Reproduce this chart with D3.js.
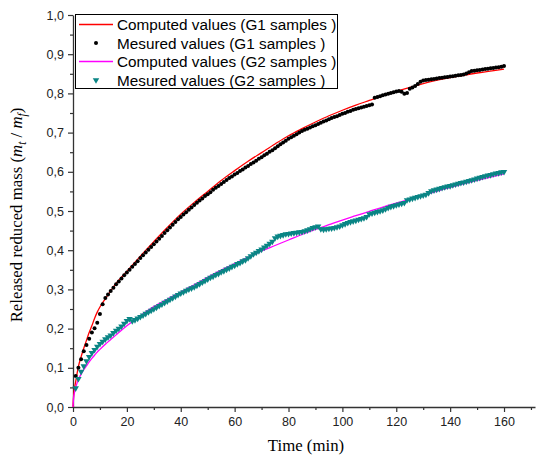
<!DOCTYPE html>
<html>
<head>
<meta charset="utf-8">
<script src="https://cdn.jsdelivr.net/npm/d3@7"></script>
<style>
  body { margin: 0; background: #fff; }
  text { font-family: "Liberation Sans", Arial, sans-serif; }
</style>
</head>
<body>
<div id="chart"></div>
<script>
// computed (model) curves
const compTime = [0, 0.25, 0.5, 1, 1.5, 2, 3, 4, 5, 6, 7, 8, 9, 10, 12, 14, 16, 18, 20, 25, 30, 35, 40, 45, 50, 55, 60, 65, 70, 75, 80, 85, 90, 95, 100, 105, 110, 115, 120, 130, 140, 150, 160];
const compG1 = [0, 0.030, 0.045, 0.065, 0.085, 0.103, 0.128, 0.150, 0.170, 0.190, 0.207, 0.226, 0.242, 0.255, 0.276, 0.296, 0.315, 0.331, 0.346, 0.385, 0.422, 0.458, 0.492, 0.522, 0.550, 0.578, 0.603, 0.627, 0.649, 0.671, 0.692, 0.710, 0.727, 0.743, 0.757, 0.770, 0.782, 0.794, 0.805, 0.825, 0.840, 0.852, 0.862];
const compG2 = [0, 0.025, 0.035, 0.050, 0.061, 0.070, 0.084, 0.095, 0.105, 0.115, 0.124, 0.132, 0.140, 0.147, 0.160, 0.172, 0.184, 0.196, 0.207, 0.233, 0.256, 0.275, 0.293, 0.312, 0.331, 0.349, 0.366, 0.382, 0.398, 0.412, 0.426, 0.440, 0.453, 0.465, 0.477, 0.488, 0.499, 0.510, 0.520, 0.540, 0.560, 0.578, 0.595];

// measured values, one every minute from t = 1 to 160
const measTime = d3.range(1, 161);
const measG1 = [
  0.079, 0.100, 0.122, 0.142, 0.158, 0.174, 0.190, 0.201, 0.215, 0.237,
  0.262, 0.278, 0.287, 0.296, 0.304, 0.313, 0.320, 0.328, 0.336, 0.343,
  0.350, 0.358, 0.365, 0.372, 0.380, 0.387, 0.394, 0.401, 0.408, 0.415,
  0.422, 0.429, 0.436, 0.444, 0.451, 0.458, 0.465, 0.472, 0.479, 0.485,
  0.491, 0.497, 0.503, 0.509, 0.515, 0.521, 0.527, 0.532, 0.538, 0.543,
  0.548, 0.554, 0.559, 0.564, 0.569, 0.574, 0.579, 0.584, 0.588, 0.593,
  0.597, 0.602, 0.606, 0.611, 0.615, 0.620, 0.624, 0.628, 0.633, 0.637,
  0.642, 0.646, 0.651, 0.655, 0.660, 0.665, 0.670, 0.675, 0.679, 0.684,
  0.688, 0.692, 0.696, 0.700, 0.704, 0.707, 0.710, 0.713, 0.716, 0.719,
  0.722, 0.725, 0.728, 0.731, 0.734, 0.737, 0.740, 0.742, 0.745, 0.748,
  0.750, 0.753, 0.755, 0.758, 0.760, 0.762, 0.764, 0.766, 0.768, 0.770,
  0.772, 0.789, 0.791, 0.793, 0.795, 0.797, 0.799, 0.801, 0.803, 0.805,
  0.806, 0.804, 0.799, 0.801, 0.812, 0.815, 0.819, 0.824, 0.830, 0.833,
  0.834, 0.835, 0.836, 0.837, 0.838, 0.839, 0.840, 0.841, 0.842, 0.843,
  0.844, 0.845, 0.846, 0.847, 0.848, 0.851, 0.854, 0.857, 0.858, 0.859,
  0.860, 0.861, 0.862, 0.863, 0.864, 0.865, 0.866, 0.867, 0.868, 0.870
];
const measG2 = [
  0.048, 0.072, 0.090, 0.104, 0.117, 0.128, 0.138, 0.146, 0.154, 0.161,
  0.167, 0.173, 0.178, 0.183, 0.189, 0.195, 0.200, 0.206, 0.213, 0.220,
  0.225, 0.219, 0.222, 0.226, 0.230, 0.234, 0.238, 0.242, 0.246, 0.250,
  0.254, 0.258, 0.262, 0.266, 0.270, 0.274, 0.278, 0.282, 0.286, 0.290,
  0.293, 0.297, 0.300, 0.303, 0.306, 0.310, 0.314, 0.318, 0.322, 0.326,
  0.330, 0.333, 0.337, 0.340, 0.344, 0.347, 0.351, 0.354, 0.358, 0.361,
  0.365, 0.368, 0.372, 0.375, 0.380, 0.385, 0.390, 0.394, 0.398, 0.402,
  0.407, 0.412, 0.417, 0.422, 0.431, 0.435, 0.437, 0.439, 0.441, 0.442,
  0.443, 0.444, 0.445, 0.446, 0.447, 0.449, 0.451, 0.454, 0.457, 0.459,
  0.461, 0.454, 0.453, 0.454, 0.455, 0.456, 0.457, 0.459, 0.461, 0.464,
  0.467, 0.470, 0.472, 0.474, 0.476, 0.478, 0.480, 0.482, 0.485, 0.492,
  0.494, 0.496, 0.498, 0.500, 0.502, 0.505, 0.508, 0.511, 0.513, 0.515,
  0.517, 0.519, 0.521, 0.528, 0.530, 0.532, 0.534, 0.536, 0.538, 0.540,
  0.542, 0.546, 0.551, 0.553, 0.555, 0.557, 0.559, 0.561, 0.563, 0.564,
  0.566, 0.568, 0.570, 0.572, 0.573, 0.575, 0.577, 0.579, 0.581, 0.583,
  0.585, 0.587, 0.589, 0.591, 0.592, 0.594, 0.596, 0.597, 0.599, 0.600
];

const xTicks = [0, 20, 40, 60, 80, 100, 120, 140, 160];
const yTicks = [0, 0.1, 0.2, 0.3, 0.4, 0.5, 0.6, 0.7, 0.8, 0.9, 1.0];
const legendLabels = ["Computed values (G1 samples )", "Mesured values (G1 samples )",
                      "Computed values (G2 samples )", "Mesured values (G2 samples )"];

const W = 536, H = 456;
const margin = {top: 15, right: 1, bottom: 49, left: 73};

const svg = d3.select("#chart")
    .append("svg")
    .attr("width", W)
    .attr("height", H);

const x = d3.scaleLinear()
    .domain([0, 171.5])
    .range([margin.left, W - margin.right]);

const y = d3.scaleLinear()
    .domain([0, 1])
    .range([H - margin.bottom, margin.top]);

const axisColor = "#333";
const fmt = d => d3.format(".1f")(d).replace(".", ",");

// minor ticks first
svg.append("g")
    .attr("transform", `translate(0, ${y(0)})`)
    .call(d3.axisBottom(x).tickValues(d3.range(10, 171, 20)).tickSize(3).tickFormat(""))
    .call(g => g.select(".domain").remove())
    .call(g => g.selectAll("line").attr("stroke", axisColor).attr("stroke-width", 1.2));

svg.append("g")
    .attr("transform", `translate(${x(0)}, 0)`)
    .call(d3.axisLeft(y).tickValues(d3.range(0.05, 1, 0.1)).tickSize(3).tickFormat(""))
    .call(g => g.select(".domain").remove())
    .call(g => g.selectAll("line").attr("stroke", axisColor).attr("stroke-width", 1.2));

// X axis
svg.append("g")
    .attr("transform", `translate(0, ${y(0)})`)
    .call(d3.axisBottom(x).tickValues(xTicks).tickSize(5).tickSizeOuter(0).tickPadding(5))
    .call(g => g.select(".domain").attr("stroke", axisColor).attr("stroke-width", 1.3))
    .call(g => g.selectAll("line").attr("stroke", axisColor).attr("stroke-width", 1.2))
    .call(g => g.selectAll("text").attr("fill", "#222").style("font-size", "12.5px")
        .style("font-family", "'Liberation Sans', Arial, sans-serif"));

// Y axis
svg.append("g")
    .attr("transform", `translate(${x(0)}, 0)`)
    .call(d3.axisLeft(y).tickValues(yTicks).tickFormat(fmt).tickSize(5).tickSizeOuter(0).tickPadding(4))
    .call(g => g.select(".domain").attr("stroke", axisColor).attr("stroke-width", 1.3))
    .call(g => g.selectAll("line").attr("stroke", axisColor).attr("stroke-width", 1.2))
    .call(g => g.selectAll("text").attr("fill", "#222").style("font-size", "12.5px")
        .style("font-family", "'Liberation Sans', Arial, sans-serif"));

// series
const line = d3.line()
    .x(d => x(d[0]))
    .y(d => y(d[1]))
    .curve(d3.curveMonotoneX);

const tri = d3.symbol().type(d3.symbolTriangle).size(18);

svg.append("path")
    .datum(compTime.map((t, i) => [t, compG1[i]]))
    .attr("fill", "none")
    .attr("stroke", "#ff0000")
    .attr("stroke-width", 1.3)
    .attr("d", line);

svg.append("g")
    .selectAll("circle")
    .data(measTime.map((t, i) => [t, measG1[i]]))
    .join("circle")
    .attr("cx", d => x(d[0]))
    .attr("cy", d => y(d[1]))
    .attr("r", 2)
    .attr("fill", "#000");

svg.append("path")
    .datum(compTime.map((t, i) => [t, compG2[i]]))
    .attr("fill", "none")
    .attr("stroke", "#ff00ff")
    .attr("stroke-width", 1.3)
    .attr("d", line);

svg.append("g")
    .selectAll("path")
    .data(measTime.map((t, i) => [t, measG2[i]]))
    .join("path")
    .attr("d", tri)
    .attr("transform", d => `translate(${x(d[0])}, ${y(d[1])}) rotate(180)`)
    .attr("fill", "#0a8585");

// legend
const legend = svg.append("g").attr("transform", "translate(75, 14)");
legend.append("rect")
    .attr("x", 0.5).attr("y", 0.5)
    .attr("width", 262).attr("height", 74)
    .attr("fill", "#fff")
    .attr("stroke", "#000")
    .attr("stroke-width", 1);

legendLabels.forEach((lab, i) => {
    const cy = 10.5 + i * 18.5;
    if (i === 0 || i === 2) {
        legend.append("line")
            .attr("x1", 4).attr("x2", 38)
            .attr("y1", cy).attr("y2", cy)
            .attr("stroke", i === 0 ? "#ff0000" : "#ff00ff")
            .attr("stroke-width", 1.3);
    } else if (i === 1) {
        legend.append("circle").attr("cx", 21).attr("cy", cy).attr("r", 2).attr("fill", "#000");
    } else {
        legend.append("path").attr("d", tri)
            .attr("transform", `translate(21, ${cy}) rotate(180)`)
            .attr("fill", "#0a8585");
    }
    legend.append("text")
        .attr("x", 42)
        .attr("y", cy + 5.5)
        .style("font-size", "15.3px")
        .attr("fill", "#000")
        .text(lab);
});

// axis titles
svg.append("text")
    .attr("text-anchor", "middle")
    .attr("x", 306)
    .attr("y", 451)
    .style("font-family", "'Liberation Serif', 'Times New Roman', serif")
    .style("font-size", "16.8px")
    .text("Time (min)");

const yl = svg.append("text")
    .attr("text-anchor", "middle")
    .attr("transform", "translate(22, 215) rotate(-90)")
    .style("font-family", "'Liberation Serif', 'Times New Roman', serif")
    .style("font-size", "16.8px");
yl.append("tspan").text("Released reduced mass (");
yl.append("tspan").style("font-style", "italic").text("m");
yl.append("tspan").style("font-style", "italic").attr("dy", 4).style("font-size", "11.5px").text("t");
yl.append("tspan").attr("dy", -4).text(" / ");
yl.append("tspan").style("font-style", "italic").text("m");
yl.append("tspan").style("font-style", "italic").attr("dy", 4).style("font-size", "11.5px").text("f");
yl.append("tspan").attr("dy", -4).text(")");
</script>
</body>
</html>
